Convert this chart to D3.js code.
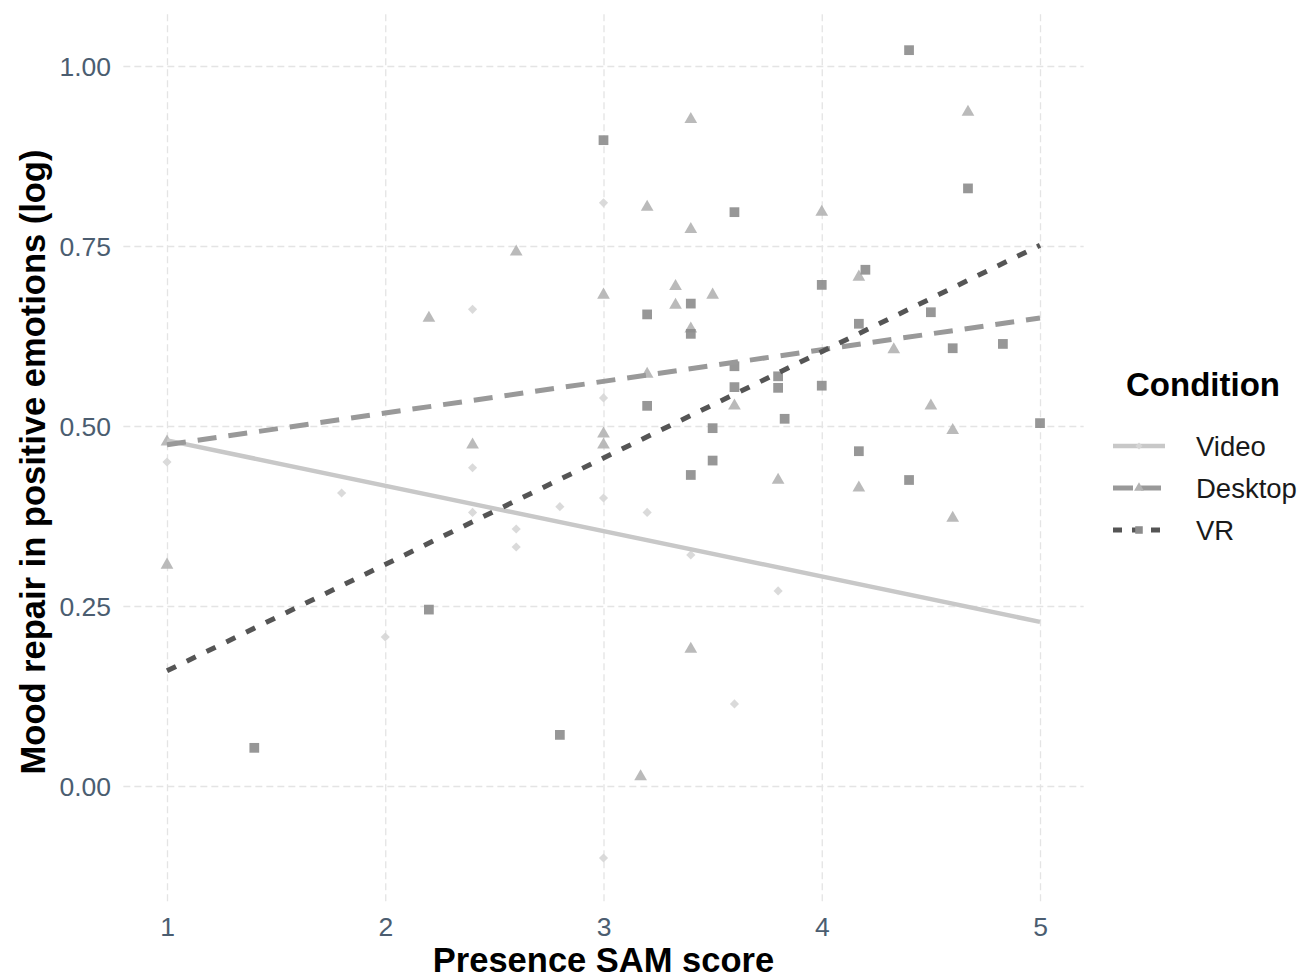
<!DOCTYPE html>
<html>
<head>
<meta charset="utf-8">
<script src="https://cdn.jsdelivr.net/npm/d3@7"></script>
<style>
    body { margin: 0; background: #fff; }
    text { font-family: "Liberation Sans", Arial, sans-serif; }
</style>
</head>
<body>
<div id="chart"></div>
<script>
// data
var videoX = [1.0, 1.8, 2.0, 2.4, 2.4, 2.4, 2.6, 2.6, 2.8, 3.0, 3.0, 3.0, 3.0, 3.2, 3.4, 3.6, 3.8];
var videoY = [0.45, 0.407, 0.207, 0.662, 0.442, 0.38, 0.357, 0.332, 0.388, 0.81, 0.539, 0.40, -0.10, 0.38, 0.321, 0.114, 0.271];

var desktopX = [1.0, 1.0, 2.2, 2.4, 2.6, 3.0, 3.0, 3.0, 3.17, 3.2, 3.2, 3.33, 3.33, 3.4, 3.4, 3.4, 3.4, 3.5, 3.6, 3.8, 4.0, 4.17, 4.17, 4.33, 4.5, 4.6, 4.6, 4.67];
var desktopY = [0.478, 0.307, 0.65, 0.474, 0.742, 0.682, 0.489, 0.474, 0.013, 0.804, 0.572, 0.694, 0.668, 0.926, 0.773, 0.635, 0.19, 0.682, 0.528, 0.425, 0.797, 0.707, 0.414, 0.606, 0.528, 0.494, 0.372, 0.936];

var vrX = [1.4, 2.2, 2.8, 3.0, 3.2, 3.2, 3.4, 3.4, 3.4, 3.5, 3.5, 3.6, 3.6, 3.6, 3.8, 3.8, 3.83, 4.0, 4.0, 4.17, 4.17, 4.2, 4.4, 4.4, 4.5, 4.6, 4.67, 4.83, 5.0];
var vrY = [0.053, 0.245, 0.071, 0.897, 0.655, 0.528, 0.67, 0.628, 0.432, 0.497, 0.452, 0.797, 0.583, 0.554, 0.569, 0.553, 0.51, 0.696, 0.556, 0.642, 0.465, 0.717, 1.022, 0.425, 0.658, 0.608, 0.83, 0.614, 0.504];

// fitted lines, value at x = 1 and x = 5
var fitX = [1, 5];
var videoFit = [0.48, 0.228];
var desktopFit = [0.474, 0.65];
var vrFit = [0.16, 0.751];

var conditions = ["Video", "Desktop", "VR"];
var xTicks = [1, 2, 3, 4, 5];
var yTicks = [0, 0.25, 0.5, 0.75, 1];

// video marks are squares turned 45 degrees (ggplot shape 18)
var series = [
    { label: "Video", x: videoX, y: videoY, fit: videoFit, shape: d3.symbolSquare, rot: 45, size: 42, fill: "#d6d6d6",
      line: "#c8c8c8", dash: null, keyDash: null, width: 4.5 },
    { label: "Desktop", x: desktopX, y: desktopY, fit: desktopFit, shape: d3.symbolTriangle, rot: 0, size: 70, fill: "#b2b2b2",
      line: "#999999", dash: "19,12", keyDash: "20,8", width: 5 },
    { label: "VR", x: vrX, y: vrY, fit: vrFit, shape: d3.symbolSquare, rot: 0, size: 95, fill: "#8c8c8c",
      line: "#555555", dash: "10,12", keyDash: "9,10", width: 5 }
];

var width = 1304, height = 980;
var panel = { left: 123.35, right: 1083.65, top: 12, bottom: 901.2 };

var x_scale = d3.scaleLinear().domain([0.8, 5.2]).range([panel.left, panel.right]);
var y_scale = d3.scaleLinear().domain([-0.16, 1.075]).range([panel.bottom, panel.top]);

var svg = d3.select("#chart").append("svg")
    .attr("width", width)
    .attr("height", height);

// grid
var x_grid = d3.axisBottom(x_scale).tickValues(xTicks).tickSize(-(panel.bottom - panel.top)).tickFormat("");
var y_grid = d3.axisLeft(y_scale).tickValues(yTicks).tickSize(-(panel.right - panel.left)).tickFormat("");

svg.append("g")
    .attr("class", "x grid")
    .attr("transform", "translate(0," + panel.bottom + ")")
    .call(x_grid);
svg.append("g")
    .attr("class", "y grid")
    .attr("transform", "translate(" + panel.left + ",0)")
    .call(y_grid);

svg.selectAll(".grid .domain").remove();
svg.selectAll(".grid line")
    .attr("stroke", "#e4e4e4")
    .attr("stroke-width", 1.3)
    .attr("stroke-dasharray", "7,4");

// axis labels
var x_axis = d3.axisBottom(x_scale).tickValues(xTicks).tickSize(0).tickPadding(0).tickFormat(d3.format("d"));
var y_axis = d3.axisLeft(y_scale).tickValues(yTicks).tickSize(0).tickPadding(0).tickFormat(d3.format(".2f"));

var gx = svg.append("g")
    .attr("class", "x axis")
    .attr("transform", "translate(0,916)")
    .call(x_axis);
var gy = svg.append("g")
    .attr("class", "y axis")
    .attr("transform", "translate(111,0)")
    .call(y_axis);

svg.selectAll(".axis .domain").remove();
svg.selectAll(".axis text")
    .attr("fill", "#4b5d70")
    .style("font-size", "26.5px")
    .style("font-family", "'Liberation Sans', Arial, sans-serif");
gx.selectAll("text").attr("dy", "0.75em");
gy.selectAll("text").attr("dy", "0.35em");

svg.append("text")
    .attr("x", (panel.left + panel.right) / 2)
    .attr("y", 972)
    .attr("text-anchor", "middle")
    .style("font-size", "34.5px")
    .style("font-weight", "bold")
    .text("Presence SAM score");

svg.append("text")
    .attr("transform", "translate(45," + 462 + ") rotate(-90)")
    .attr("text-anchor", "middle")
    .style("font-size", "34.5px")
    .style("font-weight", "bold")
    .text("Mood repair in positive emotions (log)");

// points
series.forEach(function (s) {
    var sym = d3.symbol().type(s.shape).size(s.size);
    svg.append("g")
        .attr("class", "points")
        .selectAll("path")
        .data(d3.zip(s.x, s.y))
        .enter().append("path")
        .attr("d", sym)
        .attr("transform", function (d) {
            return "translate(" + x_scale(d[0]) + "," + y_scale(d[1]) + ") rotate(" + s.rot + ")";
        })
        .attr("fill", s.fill)
        .attr("fill-opacity", 0.9);
});

// fitted lines
var draw_line = d3.line()
    .x(function (d) { return x_scale(d[0]); })
    .y(function (d) { return y_scale(d[1]); });

series.forEach(function (s) {
    svg.append("path")
        .datum(d3.zip(fitX, s.fit))
        .attr("d", draw_line)
        .attr("fill", "none")
        .attr("stroke", s.line)
        .attr("stroke-width", s.width)
        .attr("stroke-dasharray", s.dash);
});

// legend
var legend = svg.append("g").attr("transform", "translate(1113,0)");

legend.append("text")
    .attr("x", 13)
    .attr("y", 396)
    .style("font-size", "33px")
    .style("font-weight", "bold")
    .text("Condition");

var key_y = d3.scalePoint().domain(conditions).range([446, 530]);

series.forEach(function (s) {
    var ky = key_y(s.label);
    legend.append("line")
        .attr("x1", 0).attr("x2", 52)
        .attr("y1", ky).attr("y2", ky)
        .attr("stroke", s.line)
        .attr("stroke-width", s.width)
        .attr("stroke-dasharray", s.keyDash);
    legend.append("path")
        .attr("d", d3.symbol().type(s.shape).size(s.size * 0.6)())
        .attr("transform", "translate(26," + ky + ") rotate(" + s.rot + ")")
        .attr("fill", s.fill);
    legend.append("text")
        .attr("x", 83)
        .attr("y", ky)
        .attr("dy", "0.35em")
        .style("font-size", "27.5px")
        .attr("fill", "#1a1a1a")
        .text(s.label);
});
</script>
</body>
</html>
